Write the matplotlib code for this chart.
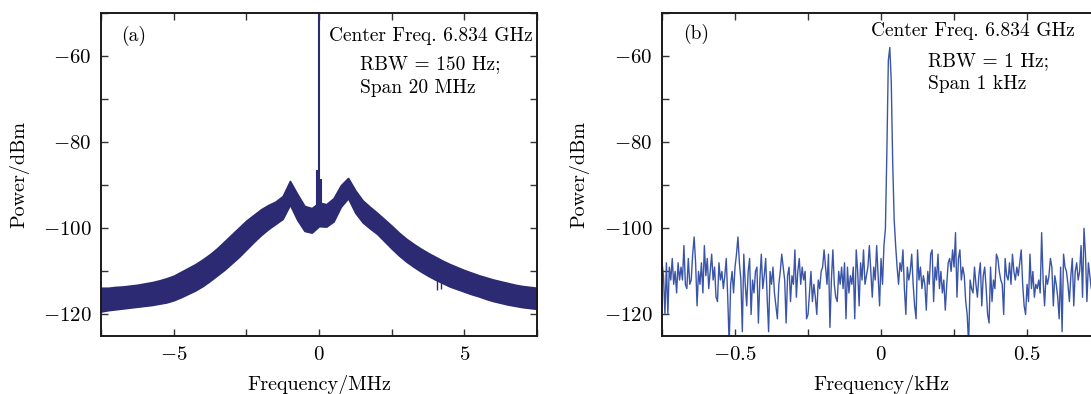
import numpy as np
import matplotlib
matplotlib.use('Agg')
import matplotlib.pyplot as plt
from matplotlib.ticker import MultipleLocator, FuncFormatter

plt.rcParams['font.family'] = 'serif'
plt.rcParams['font.serif'] = ['cmr10', 'DejaVu Serif']
plt.rcParams['mathtext.fontset'] = 'cm'
plt.rcParams['axes.unicode_minus'] = False

''' (a) span 20 MHz: noise band read as upper / lower envelope '''
freq_a = [-7.50, -7.25, -7.00, -6.75, -6.50, -6.25, -6.00, -5.75, -5.50, -5.25,
          -5.00, -4.75, -4.50, -4.25, -4.00, -3.75, -3.50, -3.25, -3.00, -2.75,
          -2.50, -2.25, -2.00, -1.75, -1.50, -1.25, -1.00, -0.75, -0.50, -0.25,
          0.00, 0.25, 0.50, 0.75, 1.00, 1.25, 1.50, 1.75, 2.00, 2.25,
          2.50, 2.75, 3.00, 3.25, 3.50, 3.75, 4.00, 4.25, 4.50, 4.75,
          5.00, 5.25, 5.50, 5.75, 6.00, 6.25, 6.50, 6.75, 7.00, 7.25, 7.50]
upper_a = [-113.8, -113.8, -113.6, -113.5, -113.3, -113.1, -112.8, -112.5, -112.1, -111.6,
           -111.0, -110.1, -109.2, -108.3, -107.2, -106.0, -104.6, -103.0, -101.4, -99.8,
           -98.2, -96.9, -95.6, -94.6, -93.8, -92.5, -89.0, -92.0, -94.8, -95.3,
           -94.0, -94.4, -93.0, -90.0, -88.3, -91.2, -93.5, -95.0, -96.4, -97.9,
           -99.4, -101.0, -102.4, -103.6, -104.7, -105.7, -106.6, -107.5, -108.3, -109.0,
           -109.7, -110.3, -110.9, -111.4, -111.9, -112.3, -112.7, -113.1, -113.4, -113.6, -113.8]
lower_a = [-119.3, -119.0, -118.8, -118.6, -118.4, -118.2, -118.0, -117.8, -117.5, -117.2,
           -116.7, -116.0, -115.2, -114.4, -113.4, -112.2, -110.9, -109.6, -108.1, -106.6,
           -104.9, -103.2, -101.6, -100.2, -99.0, -97.8, -94.5, -98.0, -100.6, -101.0,
           -99.5, -99.6, -98.4, -95.0, -93.0, -96.4, -98.6, -100.0, -101.3, -103.0,
           -104.7, -106.3, -107.7, -108.9, -110.0, -111.0, -111.9, -112.7, -113.5, -114.1,
           -114.7, -115.3, -115.8, -116.4, -116.9, -117.3, -117.7, -118.0, -118.3, -118.5, -118.7]
# carrier, two small side spikes and two short dips near 4.2 MHz
spike_f = [-0.07, 0.0, 0.07]
spike_base = [-97.0, -97.0, -96.0]
spike_top = [-86.5, -40.0, -88.5]
dip_f = [4.05, 4.2]
dip_top = [-111.0, -111.5]
dip_bottom = [-114.3, -114.0]

''' (b) span 1 kHz, 0.005 kHz steps from -0.75 to 0.75 '''
f_start_b, f_stop_b = -0.75, 0.75
power_b = [
    -108, -111, -120, -108, -120, -109, -112, -107, -113, -110, -115, -108, -112, -109, -112, -104, -113, -114, -107, -113,
    -112, -106, -102, -108, -118, -110, -113, -108, -115, -104, -111, -107, -114, -110, -106, -112, -109, -116, -117, -108,
    -112, -110, -114, -111, -107, -116, -127, -113, -110, -115, -109, -106, -102, -108, -112, -124, -106, -113, -118, -110,
    -107, -120, -112, -115, -110, -109, -122, -112, -106, -114, -111, -107, -116, -124, -110, -113, -109, -115, -118, -121,
    -113, -110, -106, -109, -112, -122, -111, -109, -117, -111, -113, -105, -116, -110, -107, -113, -109, -112, -110, -121,
    -120, -115, -110, -117, -113, -116, -120, -112, -114, -110, -109, -105, -109, -113, -106, -123, -112, -105, -113, -116,
    -117, -110, -113, -109, -114, -108, -121, -109, -115, -111, -113, -109, -121, -105, -110, -118, -108, -112, -105, -113,
    -111, -109, -104, -110, -116, -109, -112, -104, -111, -118, -107, -113, -104, -100, -82, -61, -58, -66, -85, -98,
    -104, -109, -113, -108, -110, -105, -114, -120, -109, -112, -110, -106, -113, -118, -121, -105, -112, -109, -114, -111,
    -113, -119, -110, -113, -106, -105, -117, -109, -112, -106, -114, -110, -115, -112, -119, -113, -108, -107, -110, -105,
    -109, -101, -116, -107, -105, -112, -109, -111, -117, -120, -127, -112, -114, -115, -109, -113, -116, -111, -108, -118,
    -111, -109, -114, -120, -122, -109, -117, -112, -114, -106, -107, -110, -112, -113, -120, -107, -111, -112, -108, -113,
    -106, -110, -112, -109, -111, -108, -105, -113, -118, -120, -113, -117, -106, -114, -110, -116, -113, -114, -112, -115,
    -101, -112, -118, -111, -113, -111, -107, -109, -118, -111, -113, -116, -121, -109, -124, -106, -109, -110, -113, -117,
    -111, -107, -118, -110, -108, -112, -110, -104, -116, -100, -106, -117, -108, -111, -114, -109, -112, -110, -113, -111,
    -112,
]
freq_b = np.linspace(f_start_b, f_stop_b, len(power_b))

color_a = '#2b2a72'
color_b = '#3a55a8'


def style_axes(ax, xlim, xmajor, xminor):
    ax.set_xlim(*xlim)
    ax.set_ylim(-125, -50)
    ax.xaxis.set_major_locator(MultipleLocator(xmajor))
    ax.xaxis.set_minor_locator(MultipleLocator(xminor))
    ax.yaxis.set_major_locator(MultipleLocator(20))
    ax.yaxis.set_minor_locator(MultipleLocator(10))
    fmt = FuncFormatter(lambda v, p: '$%g$' % (0 if abs(v) < 1e-9 else v))
    ax.xaxis.set_major_formatter(fmt)
    ax.yaxis.set_major_formatter(fmt)
    ax.tick_params(which='both', direction='in', top=True, right=True,
                   labelsize=15, width=1.0, colors='#333333', labelcolor='black')
    ax.tick_params(which='major', length=5, pad=7)
    ax.tick_params(which='minor', length=5)
    for s in ax.spines.values():
        s.set_linewidth(1.4)
        s.set_color('#1a1a1a')
    ax.set_ylabel('Power/dBm', fontsize=14.5)
    ax.yaxis.set_label_coords(-0.165, 0.5)


fig = plt.figure(figsize=(10.91, 3.94), dpi=100)
ax_a = fig.add_axes([0.0926, 0.1472, 0.3996, 0.8198])
ax_b = fig.add_axes([0.6068, 0.1472, 0.4015, 0.8198])

''' Panel (a) '''
ax_a.fill_between(freq_a, lower_a, upper_a, color=color_a, linewidth=1.2, edgecolor=color_a)
ax_a.vlines(spike_f, spike_base, spike_top, color=color_a, linewidth=1.5)
ax_a.vlines(dip_f, dip_bottom, dip_top, color=color_a, linewidth=1.0)
style_axes(ax_a, (-7.5, 7.5), 5, 2.5)
ax_a.set_xlabel('Frequency/MHz', fontsize=14.5)
ax_a.xaxis.set_label_coords(0.5, -0.12)
ax_a.text(0.046, 0.93, '(a)', transform=ax_a.transAxes, fontsize=14, va='center')
ax_a.text(0.99, 0.93, 'Center Freq. 6.834 GHz', transform=ax_a.transAxes,
          fontsize=14, ha='right', va='center')
ax_a.text(0.594, 0.842, 'RBW = 150 Hz;', transform=ax_a.transAxes, fontsize=14, va='center')
ax_a.text(0.594, 0.768, 'Span 20 MHz', transform=ax_a.transAxes, fontsize=14, va='center')

''' Panel (b) '''
ax_b.plot(freq_b, power_b, color=color_b, linewidth=1.0)
style_axes(ax_b, (-0.75, 0.75), 0.5, 0.25)
ax_b.set_xlabel('Frequency/kHz', fontsize=14.5)
ax_b.xaxis.set_label_coords(0.5, -0.12)
ax_b.text(0.048, 0.935, '(b)', transform=ax_b.transAxes, fontsize=14, va='center')
ax_b.text(0.477, 0.944, 'Center Freq. 6.834 GHz', transform=ax_b.transAxes,
          fontsize=14, ha='left', va='center')
ax_b.text(0.607, 0.851, 'RBW = 1 Hz;', transform=ax_b.transAxes, fontsize=14, va='center')
ax_b.text(0.607, 0.780, 'Span 1 kHz', transform=ax_b.transAxes, fontsize=14, va='center')

fig.savefig('out.png', dpi=100)
